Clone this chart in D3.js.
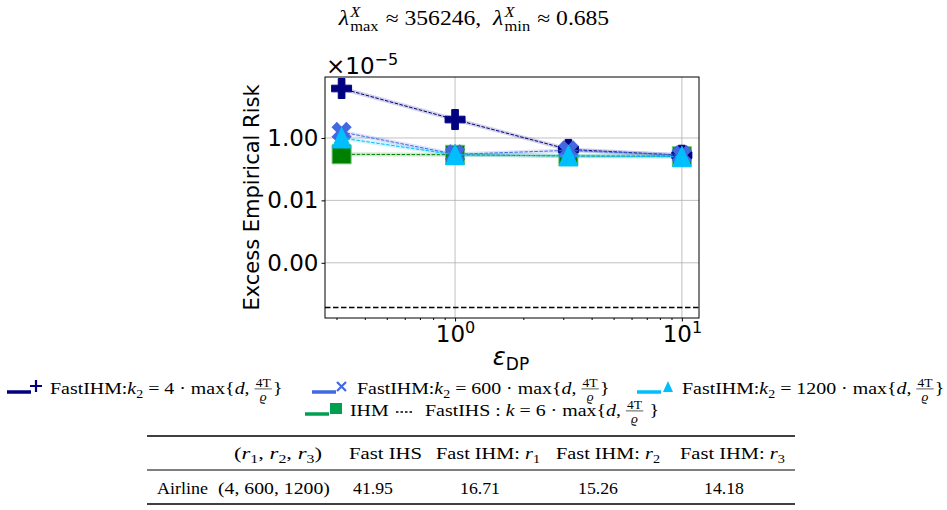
<!DOCTYPE html>
<html>
<head>
<meta charset="utf-8">
<script src="https://cdn.jsdelivr.net/npm/d3@7"></script>
<style>
  body { margin: 0; background: #fff; }
  text { white-space: pre; }
</style>
</head>
<body>
<div id="chart"></div>
<script>
// data (risk in units of 1e-5)
const eps = [0.316, 1, 3.16, 10];
const fastIHM_k4 = [38.5, 3.9, 0.43, 0.28];
const fastIHM_k600 = [1.56, 0.30, 0.40, 0.28];
const fastIHM_k1200 = [1.0, 0.29, 0.265, 0.25];
const ihm = [0.30, 0.29, 0.265, 0.26];
const fastIHS = 3.7e-6;

const yTicks = [1, 0.01, 0.0001];
const xTicks = [1, 10];
const xMinor = [0.3, 0.4, 0.5, 0.6, 0.7, 0.8, 0.9, 2, 3, 4, 5, 6, 7, 8, 9];

const tableHead = ["", "(r1,r2,r3)", "Fast IHS", "Fast IHM: r1", "Fast IHM: r2", "Fast IHM: r3"];
const tableRow = ["Airline", "(4, 600, 1200)", "41.95", "16.71", "15.26", "14.18"];

const W = 947, H = 510;
const box = {left: 325, right: 699, top: 77, bottom: 318};
const serif = "'Liberation Serif', 'DejaVu Serif', serif";
const sans = "'DejaVu Sans', sans-serif";

const svg = d3.select("#chart").append("svg")
  .attr("width", W).attr("height", H);

const x = d3.scaleLog().domain([0.267, 11.9]).range([box.left, box.right]);
const y = d3.scaleLog().domain([1.7e-6, 90]).range([box.bottom, box.top]);

// lay out latex-ish text from segments; sx stretches it to the wider CM look
// (a negative sx means "fit to this many pixels")
function mathText(parent, px, py, segs, size, anchor, sx) {
  sx = sx || 1.2;
  const g = parent.append("g").attr("font-family", serif).attr("fill", "#000");
  let cx = 0;
  segs.forEach(s => {
    if (typeof s === "string") s = {t: s};
    if (s.frac) {
      const fs = size * 0.68;
      const n = g.append("text").attr("font-size", fs).attr("text-anchor", "middle").text(s.frac[0]);
      const d = g.append("text").attr("font-size", fs).attr("font-style", "italic").attr("text-anchor", "middle").text(s.frac[1]);
      const w = Math.max(n.node().getComputedTextLength(), d.node().getComputedTextLength()) + 2;
      n.attr("x", cx + w / 2).attr("y", -size * 0.42);
      d.attr("x", cx + w / 2).attr("y", size * 0.42);
      g.append("line").attr("x1", cx).attr("x2", cx + w)
        .attr("y1", -size * 0.3).attr("y2", -size * 0.3)
        .attr("stroke", "#000").attr("stroke-width", 0.6);
      cx += w + 1;
    } else if (s.ss) {
      const fs = size * 0.7;
      const a = g.append("text").attr("font-size", fs).attr("font-style", "italic")
        .attr("x", cx + 1).attr("y", -size * 0.42).text(s.ss[0]);
      const b = g.append("text").attr("font-size", fs)
        .attr("x", cx + 1).attr("y", size * 0.28).text(s.ss[1]);
      cx += Math.max(a.node().getComputedTextLength(), b.node().getComputedTextLength()) + 2;
    } else {
      const small = s.sub || s.sup;
      const t = g.append("text")
        .attr("x", cx)
        .attr("y", s.sub ? size * 0.25 : s.sup ? -size * 0.4 : 0)
        .attr("font-size", small ? size * 0.7 : size)
        .attr("font-style", s.i ? "italic" : null)
        .text(s.t);
      cx += t.node().getComputedTextLength();
    }
  });
  if (sx < 0) sx = -sx / cx;
  const w = cx * sx;
  const off = anchor === "middle" ? w / 2 : anchor === "end" ? w : 0;
  g.attr("transform", `translate(${px - off},${py}) scale(${sx},1)`);
  return w;
}

// title
mathText(svg, 474, 25, [
  {t: "λ", i: true}, {ss: ["X", "max"]}, " ≈ 356246,  ",
  {t: "λ", i: true}, {ss: ["X", "min"]}, " ≈ 0.685"
], 20, "middle", 1.18);

// grid
const grid = svg.append("g").attr("stroke", "#b0b0b0").attr("stroke-width", 0.8);
grid.selectAll(".gx").data(xTicks).join("line")
  .attr("x1", d => x(d)).attr("x2", d => x(d))
  .attr("y1", box.top).attr("y2", box.bottom);
grid.selectAll(".gy").data(yTicks).join("line")
  .attr("y1", d => y(d)).attr("y2", d => y(d))
  .attr("x1", box.left).attr("x2", box.right);

// FastIHS reference line
svg.append("line")
  .attr("x1", box.left).attr("x2", box.right)
  .attr("y1", y(fastIHS)).attr("y2", y(fastIHS))
  .attr("stroke", "#000").attr("stroke-width", 1.5).attr("stroke-dasharray", "5.5,2.5");

const plus = d3.symbol().type(d3.symbolCross).size(222)();
const series = [
  {vals: ihm, color: "green", edge: "#6cc46c", mark: "square"},
  {vals: fastIHM_k4, color: "navy", edge: "navy", mark: "plus"},
  {vals: fastIHM_k600, color: "royalblue", edge: "royalblue", mark: "x"},
  {vals: fastIHM_k1200, color: "deepskyblue", edge: "deepskyblue", mark: "tri"}
];
function markPath(m) {
  if (m === "square") return "M-9.5,-9.5H9.5V9.5H-9.5Z";
  if (m === "tri") return "M0,-10.5L-9.5,10L9.5,10Z";
  return plus;
}

const line = d3.line().x((d, i) => x(eps[i])).y(d => y(d));
series.forEach(s => {
  svg.append("path").datum(s.vals).attr("d", line)
    .attr("fill", "none").attr("stroke", s.color).attr("stroke-opacity", 0.18)
    .attr("stroke-width", 4);
  svg.append("path").datum(s.vals).attr("d", line)
    .attr("fill", "none").attr("stroke", s.color).attr("stroke-width", 1)
    .attr("stroke-dasharray", "3.5,1.5");
  svg.append("g").selectAll("path").data(s.vals).join("path")
    .attr("d", markPath(s.mark))
    .attr("transform", (d, i) => `translate(${x(eps[i])},${y(d)})` + (s.mark === "x" ? " rotate(45)" : ""))
    .attr("fill", s.color).attr("stroke", s.edge).attr("stroke-width", 1);
});

// frame
svg.append("rect")
  .attr("x", box.left).attr("y", box.top)
  .attr("width", box.right - box.left).attr("height", box.bottom - box.top)
  .attr("fill", "none").attr("stroke", "#000").attr("stroke-width", 1);

// axes
const xAxis = svg.append("g").attr("transform", `translate(0,${box.bottom})`)
  .call(d3.axisBottom(x).tickValues(xTicks).tickSize(3.5).tickFormat(""));
xAxis.select(".domain").remove();
const xMin = svg.append("g").attr("transform", `translate(0,${box.bottom})`)
  .call(d3.axisBottom(x).tickValues(xMinor).tickSize(2).tickFormat(""));
xMin.select(".domain").remove();
xAxis.selectAll(".tick").each(function(d) {
  const t = d3.select(this).append("text").attr("fill", "#000")
    .attr("font-family", sans).attr("y", 24).attr("text-anchor", "middle");
  t.append("tspan").attr("font-size", 23).text("10");
  t.append("tspan").attr("font-size", 16).attr("dy", -9).text(Math.round(Math.log10(d)));
});

const yAxis = svg.append("g").attr("transform", `translate(${box.left},0)`)
  .call(d3.axisLeft(y).tickValues(yTicks).tickSize(3.5).tickPadding(3).tickFormat(d3.format(".2f")));
yAxis.select(".domain").remove();
yAxis.selectAll("text").attr("font-family", sans).attr("font-size", 23).attr("fill", "#000");

// offset label
const off = svg.append("text").attr("x", 326).attr("y", 74)
  .attr("font-family", sans).attr("fill", "#000");
off.append("tspan").attr("font-size", 23).text("×10");
off.append("tspan").attr("font-size", 16).attr("dy", -9).text("−5");

// axis titles
svg.append("text")
  .attr("transform", `translate(259,${(box.top + box.bottom) / 2}) rotate(-90)`)
  .attr("text-anchor", "middle").attr("font-family", sans).attr("font-size", 21)
  .text("Excess Empirical Risk");
const xl = svg.append("text").attr("x", 511).attr("y", 365)
  .attr("text-anchor", "middle").attr("font-family", sans);
xl.append("tspan").attr("font-size", 24).attr("font-style", "italic").text("ε");
xl.append("tspan").attr("font-size", 17).attr("dy", 5).text("DP");

// legend
const frac = {frac: ["4T", "ϱ"]};
const legend = [
  {x: 7, y: 392, color: "navy", mark: "plus",
    segs: ["FastIHM:", {t: "k", i: true}, {t: "2", sub: true}, " = 4 · max{", {t: "d", i: true}, ", ", frac, "}"]},
  {x: 312, y: 392, color: "royalblue", mark: "x",
    segs: ["FastIHM:", {t: "k", i: true}, {t: "2", sub: true}, " = 600 · max{", {t: "d", i: true}, ", ", frac, "}"]},
  {x: 637, y: 392, color: "deepskyblue", mark: "tri",
    segs: ["FastIHM:", {t: "k", i: true}, {t: "2", sub: true}, " = 1200 · max{", {t: "d", i: true}, ", ", frac, "}"]},
  {x: 305, y: 414, color: "#00a050", mark: "square", segs: ["IHM"]},
  {x: 396, y: 414, color: "#000", mark: "dots",
    segs: ["FastIHS : ", {t: "k", i: true}, " = 6 · max{", {t: "d", i: true}, ", ", frac, " }"]}
];
legend.forEach(l => {
  const g = svg.append("g").attr("transform", `translate(${l.x},${l.y})`);
  let tx;
  if (l.mark === "dots") {
    g.append("line").attr("x1", 0).attr("x2", 17).attr("y1", -2).attr("y2", -2)
      .attr("stroke", "#000").attr("stroke-width", 1.5).attr("stroke-dasharray", "2.5,2");
    tx = 29;
  } else {
    g.append("line").attr("x1", 0).attr("x2", 24).attr("y1", 0).attr("y2", 0)
      .attr("stroke", l.color).attr("stroke-width", 3.5);
    if (l.mark === "plus") {
      g.append("path").attr("d", "M23,-6H35M29,-12V0").attr("stroke", l.color).attr("stroke-width", 2.2);
    } else if (l.mark === "x") {
      g.append("path").attr("d", "M25,-10L34,-1M34,-10L25,-1").attr("stroke", l.color).attr("stroke-width", 2.2);
    } else if (l.mark === "tri") {
      g.append("path").attr("d", "M31,-11L26,0L36,0Z").attr("fill", l.color);
    } else {
      g.append("rect").attr("x", 25).attr("y", -11).attr("width", 12).attr("height", 11).attr("fill", l.color);
    }
    tx = l.mark === "plus" ? 43 : 45;
  }
  mathText(g, tx, 2, l.segs, 17, "start", 1.17);
});

// table: cell starts and widths as set in the typeset original
const headX = [0, 234, 349, 436, 556, 680];
const headW = [0, 88, 73, 104, 104, 105];
const rowX = [157, 218, 353, 460, 578, 704];
const rowW = [51, 112, 40, 40, 40, 40];
const table = svg.append("g");
[[436, 1.6], [470, 1], [504, 1.6]].forEach(([ry, sw]) => {
  table.append("line").attr("x1", 147).attr("x2", 795).attr("y1", ry).attr("y2", ry)
    .attr("stroke", "#000").attr("stroke-width", sw);
});
function cellSegs(s) {
  if (s === "(r1,r2,r3)")
    return ["(", {t: "r", i: true}, {t: "1", sub: true}, ", ", {t: "r", i: true}, {t: "2", sub: true}, ", ", {t: "r", i: true}, {t: "3", sub: true}, ")"];
  const m = s.match(/^(Fast IHM: )r(\d)$/);
  if (m) return [m[1], {t: "r", i: true}, {t: m[2], sub: true}];
  return [s];
}
tableHead.forEach((h, i) => { if (h) mathText(table, headX[i], 459, cellSegs(h), 17, "start", -headW[i]); });
tableRow.forEach((h, i) => mathText(table, rowX[i], 494, cellSegs(h), 17, "start", -rowW[i]));
</script>
</body>
</html>
